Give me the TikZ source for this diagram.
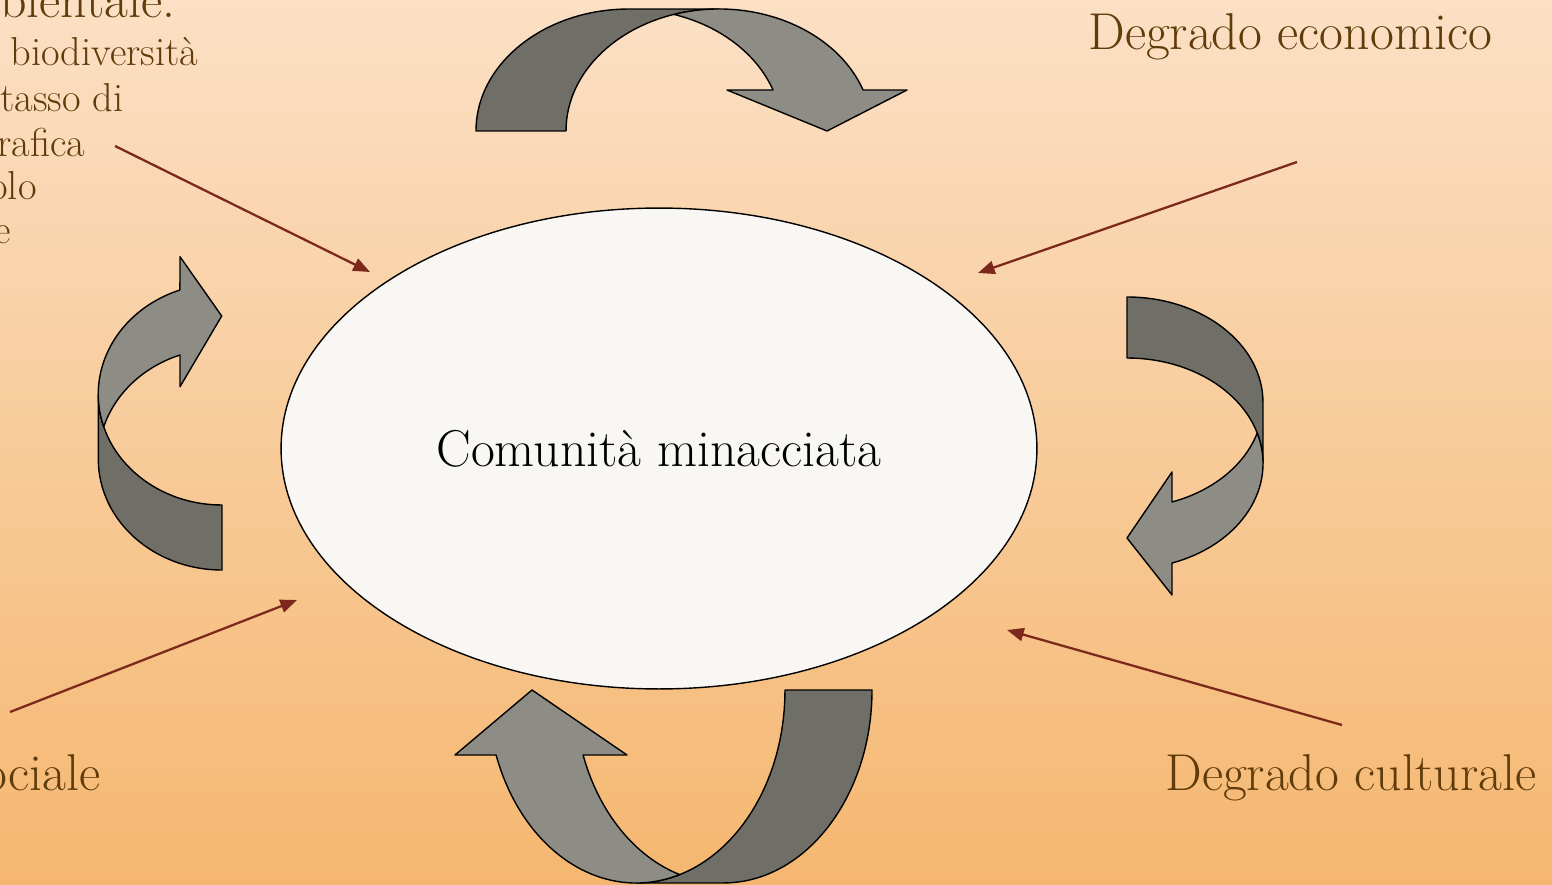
\documentclass[tikz,border=0pt]{standalone}
\usepackage{tikz}
\usetikzlibrary{shapes.geometric,arrows.meta}

\definecolor{bgTop}{RGB}{251,224,197}
\definecolor{bgBottom}{RGB}{245,183,112}
\definecolor{txtBrown}{RGB}{96,60,10}
\definecolor{causeRed}{RGB}{125,40,28}
\definecolor{bandDark}{RGB}{111,111,104}
\definecolor{bandLight}{RGB}{141,141,134}
\definecolor{ovalFill}{RGB}{249,247,243}

\tikzset{
  deglbl/.style={text=txtBrown, inner sep=0pt, font=\fontsize{29.5}{34}\selectfont},
  subtxt/.style={text=txtBrown, inner sep=0pt, font=\fontsize{23}{27}\selectfont},
  cause/.style={draw=causeRed, line width=1.3pt, -{Triangle[length=9.5pt,width=7.5pt]}},
  backband/.style={fill=bandDark, draw=black, line width=0.8pt, line join=round},
  frontband/.style={fill=bandLight, draw=black, line width=0.8pt, line join=round},
}

\begin{document}
\begin{tikzpicture}[x=0.02cm, y=-0.02cm]
	%%%%% START %%%%%
	\useasboundingbox (0,0) rectangle (1552,885);
	\clip (0,0) rectangle (1552,885);
	\shade[top color=bgTop, bottom color=bgBottom] (0,0) rectangle (1552,885);
	
	% central community
	\node[ellipse, draw=black, line width=0.8pt, fill=ovalFill, minimum width=15.12cm, minimum height=9.62cm,
	      inner sep=0pt, font=\fontsize{29.5}{34}\selectfont] (comm) at (659,448.5) {Comunità minacciata};
	
	% labels
	\node[deglbl, anchor=base west] (econ) at (1088,50) {Degrado economico};
	\node[deglbl, anchor=base west] (cult) at (1165,790) {Degrado culturale};
	\node[deglbl, anchor=base east] (soc) at (101,790) {ociale};
	\node[deglbl, anchor=base west] (env0) at (0,18) {bientale:};
	\node[subtxt, anchor=base west] (env1) at (10,66) {biodiversità};
	\node[subtxt, anchor=base west] (env2) at (0,112) {tasso di};
	\node[subtxt, anchor=base west] (env3) at (-3,157) {rafica};
	\node[subtxt, anchor=base west] (env4) at (-11,200) {olo};
	\node[subtxt, anchor=base west] (env5) at (-6,244) {e};
	
	% causes
	\coordinate (envFrom) at (115,146);   \coordinate (envTo) at (370,272);
	\coordinate (econFrom) at (1297,162); \coordinate (econTo) at (978,273);
	\coordinate (socFrom) at (10,712);    \coordinate (socTo) at (297,600);
	\coordinate (cultFrom) at (1342,725); \coordinate (cultTo) at (1007,630);
	\draw[cause] (envFrom) -- (envTo);
	\draw[cause] (econFrom) -- (econTo);
	\draw[cause] (socFrom) -- (socTo);
	\draw[cause] (cultFrom) -- (cultTo);
	
	% top curved arrow
	\draw[backband] (476,131) arc[start angle=180, end angle=90, x radius=3.06cm, y radius=2.44cm]
	  -- (719,9) arc[start angle=90, end angle=180, x radius=3.06cm, y radius=2.44cm] -- cycle;
	\draw[frontband] (674,14.4) arc[start angle=107.1, end angle=19.64, x radius=3.06cm, y radius=2.44cm]
	  -- (907,90) -- (827,131) -- (727,90)
	  -- (773,90) arc[start angle=19.64, end angle=72.9, x radius=3.06cm, y radius=2.44cm] -- cycle;
	
	% right curved arrow
	\draw[backband] (1127,297) arc[start angle=90, end angle=0, x radius=2.72cm, y radius=2.11cm]
	  -- (1263,463.5) arc[start angle=0, end angle=90, x radius=2.72cm, y radius=2.11cm] -- cycle;
	\draw[frontband] (1257.2,433) arc[start angle=16.8, end angle=-70.7, x radius=2.72cm, y radius=2.11cm]
	  -- (1172,595) -- (1127,538) -- (1172,472)
	  -- (1172,502) arc[start angle=-70.7, end angle=-16.8, x radius=2.72cm, y radius=2.11cm] -- cycle;
	
	% bottom curved arrow
	\draw[backband] (872,690) arc[start angle=0, end angle=-90, x radius=2.976cm, y radius=3.86cm]
	  -- (636.2,883) arc[start angle=-90, end angle=0, x radius=2.976cm, y radius=3.86cm] -- cycle;
	\draw[frontband] (496.1,755) arc[start angle=199.68, end angle=287, x radius=2.976cm, y radius=3.86cm]
	  arc[start angle=253, end angle=199.68, x radius=2.976cm, y radius=3.86cm]
	  -- (627,755) -- (532,690) -- (455,755) -- cycle;
	
	% left curved arrow
	\draw[backband] (222,570) arc[start angle=-90, end angle=-180, x radius=2.474cm, y radius=2.216cm]
	  -- (98.3,394.2) arc[start angle=180, end angle=270, x radius=2.474cm, y radius=2.216cm] -- cycle;
	\draw[frontband] (103.7,426.7) arc[start angle=197.06, end angle=109.85, x radius=2.474cm, y radius=2.216cm]
	  -- (180,256.7) -- (221.7,316) -- (180,386.7)
	  -- (180,355) arc[start angle=109.85, end angle=162.94, x radius=2.474cm, y radius=2.216cm] -- cycle;
	%%%%% END %%%%%
\end{tikzpicture}
\end{document}
